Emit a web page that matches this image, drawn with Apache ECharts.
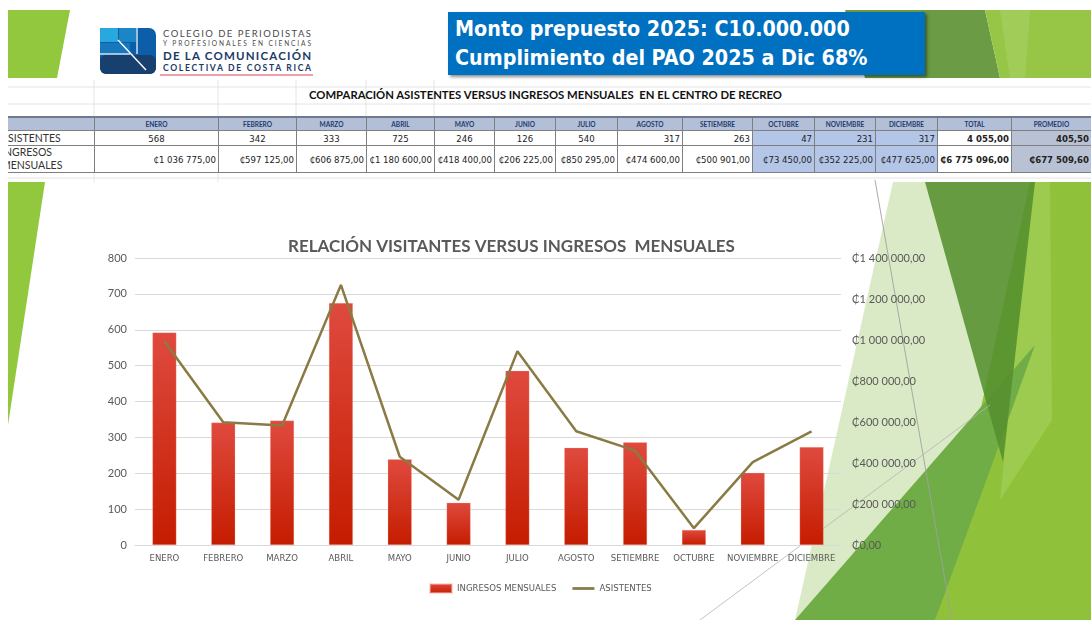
<!DOCTYPE html>
<html>
<head>
<meta charset="utf-8">
<script src="https://cdn.jsdelivr.net/npm/echarts@6/dist/echarts.min.js"></script>
<style>
  html, body { margin: 0; padding: 0; background: #fff; }
  #slide { position: relative; width: 1091px; height: 620px; overflow: hidden; background: #fff; }
  #bg { position: absolute; left: 0; top: 0; }
  #box {
    position: absolute; left: 448px; top: 12px; width: 477px; height: 63px;
    background: #0070c0; box-shadow: 2px 2px 3px rgba(0,0,0,0.45);
    color: #fff; font-family: "DejaVu Sans Condensed", "DejaVu Sans", sans-serif;
    font-weight: bold; font-size: 21.3px; line-height: 29px; padding: 2px 0 0 7px; box-sizing: border-box;
  }
  #tit {
    position: absolute; left: 0; width: 1091px; top: 88px; text-align: center;
    font-family: Lato, sans-serif; font-weight: bold; font-size: 11.3px; color: #111;
  }
  #tablaWrap { position: absolute; left: 8px; top: 116px; width: 1083px; overflow: hidden; }
  #tabla {
    position: relative; left: -10px; border-collapse: collapse; table-layout: fixed;
    font-family: "DejaVu Sans Condensed", sans-serif; font-size: 9.5px; color: #222;
  }
  #tabla td { border: 1px solid #7f7f7f; padding: 0 2px; white-space: nowrap; overflow: hidden; }
  #tabla tr.h td {
    height: 12px; background: #b2bfd6; color: #1f3a6e; font-family: Lato, sans-serif;
    font-size: 6.5px; font-weight: bold; text-align: center; border-top: 2px solid #6d7a8f;
  }
  #tabla tr.a td { height: 14px; text-align: right; }
  #tabla tr.i td { height: 26px; text-align: right; }
  #tabla tr td.lab { text-align: left; font-family: Lato, sans-serif; font-size: 10.5px; line-height: 13px; color: #333; }
  #tabla td.q4 { background: #b4c6e7; }
  #tabla td.tot { background: #fff; font-weight: bold; }
  #tabla td.pro { background: #b8c2d4; font-weight: bold; }
  #chart { position: absolute; left: 0; top: 0; width: 1091px; height: 620px; }
</style>
</head>
<body>
<div id="slide">
  <svg id="bg" width="1091" height="620">
    <!-- cuadricula de la hoja -->
    <g stroke="#e4e4e4" stroke-width="1">
      <line x1="8" y1="87" x2="1091" y2="87"/>
      <line x1="8" y1="104" x2="1091" y2="104"/>
      <line x1="94" y1="80" x2="94" y2="116"/>
      <line x1="218" y1="80" x2="218" y2="116"/>
      <line x1="296" y1="80" x2="296" y2="116"/>
      <line x1="366" y1="80" x2="366" y2="116"/>
      <line x1="434" y1="80" x2="434" y2="116"/>
      <line x1="8" y1="178" x2="1091" y2="178"/>
      <line x1="94" y1="172" x2="94" y2="182"/>
      <line x1="218" y1="172" x2="218" y2="182"/>
    </g>
    <!-- formas verdes -->
    <polygon points="8,10 70,10 57,78 8,78" fill="#92c83e"/>
    <polygon points="8,182 45,182 8,425" fill="#92c83e"/>
    <polygon points="845,10 985,10 1000,78 865,78" fill="#6b9b44"/>
    <polygon points="985,10 1091,10 1091,78 1000,78" fill="#97c646"/>
    <polygon points="1000,10 1030,10 1025,78 1010,78" fill="#a2cc58"/>
    <polygon points="893,182 1091,182 1091,620 795,620" fill="#dbeac6"/>
    <polygon points="1030,182 1091,182 1091,620 935,620" fill="#8fc13a"/>
    <polygon points="1032,182 1050,182 1052,420 1000,500" fill="#9ccb4f"/>
    <polygon points="795,620 1035,345 990,470 935,620" fill="#70ad47"/>
    <polygon points="925,182 1035,182 1003,462" fill="#55902f" fill-opacity="0.88"/>
    <line x1="875" y1="180" x2="952" y2="620" stroke="#a0a0a0" stroke-width="0.9"/>
    <line x1="700" y1="620" x2="990" y2="405" stroke="#b4b4b4" stroke-width="0.8"/>
    <!-- logo -->
    <g>
      <rect x="100" y="28" width="56" height="46" rx="7" fill="#0d5ea8"/>
      <rect x="100" y="28" width="18" height="14" fill="#29a8e0"/>
      <rect x="119" y="28" width="17" height="14" fill="#1a86c8"/>
      <rect x="100" y="43" width="30" height="11" fill="#1878bd"/>
      <rect x="100" y="55" width="56" height="19" rx="6" fill="#17406f"/>
      <line x1="118" y1="40" x2="146" y2="70" stroke="#fff" stroke-width="1.4"/>
      <line x1="137" y1="28" x2="137" y2="54" stroke="#fff" stroke-width="1.2"/>
      <line x1="100" y1="54" x2="130" y2="54" stroke="#fff" stroke-width="1.2"/>
      <text x="163" y="37" font-family="Lato, sans-serif" font-size="9.5" fill="#4a4a4a" textLength="148">COLEGIO DE PERIODISTAS</text>
      <text x="163" y="46" font-family="Lato, sans-serif" font-size="6.6" fill="#4a4a4a" textLength="148">Y PROFESIONALES EN CIENCIAS</text>
      <text x="163" y="60" font-family="Lato, sans-serif" font-size="11.5" font-weight="bold" fill="#1b3a66" textLength="148">DE LA COMUNICACIÓN</text>
      <text x="163" y="71" font-family="Lato, sans-serif" font-size="8.6" font-weight="bold" fill="#1b3a66" textLength="148">COLECTIVA DE COSTA RICA</text>
      <line x1="160" y1="75" x2="313" y2="75" stroke="#d9435a" stroke-width="1.2"/>
    </g>
  </svg>

  <div id="box">Monto prepuesto 2025: C10.000.000<br>Cumplimiento del PAO 2025 a Dic 68%</div>
  <div id="tit">COMPARACIÓN ASISTENTES VERSUS INGRESOS MENSUALES &nbsp;EN EL CENTRO DE RECREO</div>
  <div id="tablaWrap"><table id="tabla"></table></div>
  <div id="chart"></div>
</div>

<script>
const meses = ['ENERO', 'FEBRERO', 'MARZO', 'ABRIL', 'MAYO', 'JUNIO', 'JULIO', 'AGOSTO', 'SETIEMBRE', 'OCTUBRE', 'NOVIEMBRE', 'DICIEMBRE'];
const asistentes = [568, 342, 333, 725, 246, 126, 540, 317, 263, 47, 231, 317];
const ingresos = [1036775, 597125, 606875, 1180600, 418400, 206225, 850295, 474600, 500901, 73450, 352225, 477625];
const totalAsistentes = '4 055,00';
const promedioAsistentes = '405,50';
const totalIngresos = '₵6 775 096,00';
const promedioIngresos = '₵677 509,60';
const maxAsistentes = 800;
const maxIngresos = 1400000;

// anchos de columnas de la tabla
const anchos = [96, 124, 78, 70, 68, 60, 61, 62, 65, 70, 62, 61, 62, 74, 80];

function miles(v) {
  return String(v).replace(/\B(?=(\d{3})+(?!\d))/g, ' ');
}
function colones(v) {
  return '₵' + miles(v) + ',00';
}

// ====== TABLA ======
const tabla = document.getElementById('tabla');
tabla.style.width = anchos.reduce((a, b) => a + b, 0) + 'px';
let html = '<colgroup>' + anchos.map(w => '<col style="width:' + w + 'px">').join('') + '</colgroup>';
html += '<tr class="h"><td></td>' + meses.map(m => '<td>' + m + '</td>').join('') + '<td>TOTAL</td><td>PROMEDIO</td></tr>';
html += '<tr class="a"><td class="lab">ASISTENTES</td>' +
  asistentes.map((v, i) => '<td class="' + (i >= 9 ? 'q4' : '') + '"' + (i < 7 ? ' style="text-align:center"' : '') + '>' + v + '</td>').join('') +
  '<td class="tot">' + totalAsistentes + '</td><td class="pro">' + promedioAsistentes + '</td></tr>';
html += '<tr class="i"><td class="lab">INGRESOS<br>MENSUALES</td>' +
  ingresos.map((v, i) => '<td class="' + (i >= 9 ? 'q4' : '') + '">' + colones(v) + '</td>').join('') +
  '<td class="tot">' + totalIngresos + '</td><td class="pro">' + promedioIngresos + '</td></tr>';
tabla.innerHTML = html;

// ====== ECHARTS - RELACIÓN VISITANTES VS INGRESOS ======
const chartDom = document.getElementById('chart');
const myChart = echarts.init(chartDom, null, { renderer: 'canvas' });
const gris = '#595959';
const fuente = 'DejaVu Sans Condensed';

const option = {
  backgroundColor: 'transparent',
  animation: false,
  title: {
    text: 'RELACIÓN VISITANTES VERSUS INGRESOS  MENSUALES',
    left: 283,
    top: 233,
    textStyle: { color: gris, fontSize: 17, fontWeight: 'bold', fontFamily: 'Lato' }
  },
  legend: {
    left: 424,
    top: 578,
    itemGap: 16,
    itemWidth: 22,
    itemHeight: 9,
    textStyle: { color: gris, fontSize: 9.5, fontFamily: fuente },
    data: [
      { name: 'INGRESOS MENSUALES', icon: 'rect' },
      { name: 'ASISTENTES', icon: 'path://M0,0 L40,0 L40,5 L0,5 Z' }
    ]
  },
  grid: { left: 135, right: 250, top: 258, bottom: 75, containLabel: false },
  xAxis: {
    type: 'category',
    data: meses,
    axisTick: { show: false },
    axisLine: { lineStyle: { color: '#d9d9d9' } },
    axisLabel: { color: gris, fontSize: 9.5, fontFamily: fuente, margin: 9, interval: 0 }
  },
  yAxis: [
    {
      type: 'value',
      min: 0,
      max: maxAsistentes,
      interval: 100,
      axisLine: { show: false },
      axisTick: { show: false },
      axisLabel: { color: gris, fontSize: 11, fontFamily: 'Lato', margin: 8 },
      splitLine: { lineStyle: { color: '#d9d9d9' } }
    },
    {
      type: 'value',
      min: 0,
      max: maxIngresos,
      interval: 200000,
      axisLine: { show: false },
      axisTick: { show: false },
      splitLine: { show: false },
      axisLabel: { color: gris, fontSize: 11, fontFamily: 'Lato', margin: 11, formatter: v => colones(v) }
    }
  ],
  series: [
    {
      name: 'INGRESOS MENSUALES',
      type: 'bar',
      yAxisIndex: 1,
      data: ingresos,
      barWidth: 24,
      itemStyle: {
        color: new echarts.graphic.LinearGradient(0, 0, 0, 1, [
          { offset: 0, color: '#df4a3e' },
          { offset: 1, color: '#c51c00' }
        ]),
        borderColor: 'rgba(255,190,180,0.5)',
        borderWidth: 0.5
      }
    },
    {
      name: 'ASISTENTES',
      type: 'line',
      yAxisIndex: 0,
      data: asistentes,
      symbol: 'none',
      z: 5,
      lineStyle: { color: '#8a7b44', width: 2.5 },
      itemStyle: { color: '#8a7b44' }
    }
  ]
};

myChart.setOption(option);
window.addEventListener('resize', () => myChart.resize());
</script>
</body>
</html>
